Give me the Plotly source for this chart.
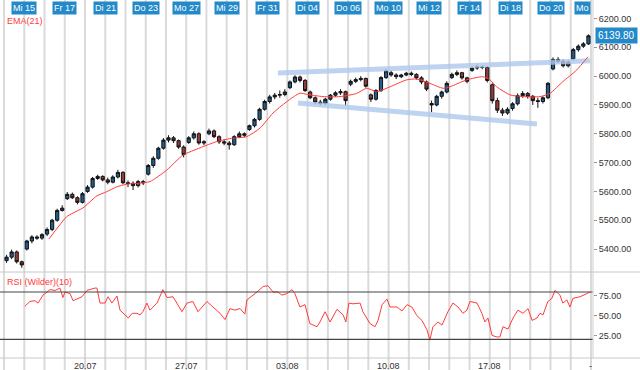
import plotly.graph_objects as go

# ---------------- data ----------------
# trading days: Di 14 = -1, Mi 15 = 0, ... Mo 24 = 28
grid_days = list(range(-1, 29))
top_label_days = [0, 2, 4, 6, 8, 10, 12, 14, 16, 18, 20, 22, 24, 26, 28]
top_labels = ["Mi 15", "Fr 17", "Di 21", "Do 23", "Mo 27", "Mi 29", "Fr 31", "Di 04",
              "Do 06", "Mo 10", "Mi 12", "Fr 14", "Di 18", "Do 20", "Mo"]
week_days = [3, 8, 13, 18, 23, 28]
week_labels = ["20.07", "27.07", "03.08", "10.08", "17.08", "-"]
bar_days = list(range(-1, 28))
bars_per_day = 4

opens = [
    5360, 5372, 5390, 5356,  5400, 5428, 5442, 5438,  5452, 5468, 5500, 5534,
    5575, 5590, 5578, 5562,  5600, 5615, 5645, 5652,  5640, 5632, 5650, 5666,
    5630, 5628, 5620, 5634,  5660, 5690, 5715, 5750,  5778, 5786, 5776, 5754,
    5770, 5786, 5800, 5768,  5800, 5810, 5790, 5772,  5768, 5762, 5790, 5800,
    5815, 5828, 5850, 5885,  5912, 5928, 5934, 5936,  5960, 5980, 5997, 5985,
    5945, 5925, 5910, 5905,  5920, 5934, 5942, 5946,  5972, 5982, 5988, 5992,
    5935, 5920, 5950, 5995,  6012, 6004, 5998, 6004,  6010, 6006, 5994, 5980,
    5905, 5900, 5930, 5945,  5995, 6006, 6012, 5994,  6020, 6028, 6032, 6030,
    5970, 5915, 5882, 5872,  5888, 5904, 5932, 5940,  5930, 5915, 5912, 5925,
    6025, 6058, 6052, 6036,  6060, 6092, 6104, 6112,
]
closes = [
    5372, 5390, 5356, 5345,  5428, 5442, 5438, 5450,  5468, 5500, 5534, 5542,
    5590, 5578, 5562, 5592,  5615, 5645, 5652, 5640,  5632, 5650, 5666, 5630,
    5628, 5620, 5634, 5630,  5690, 5715, 5750, 5778,  5786, 5776, 5754, 5728,
    5786, 5800, 5768, 5772,  5810, 5790, 5772, 5768,  5762, 5790, 5800, 5795,
    5828, 5850, 5885, 5912,  5928, 5934, 5936, 5945,  5980, 5997, 5985, 5950,
    5925, 5910, 5905, 5920,  5934, 5942, 5946, 5915,  5982, 5988, 5992, 5965,
    5920, 5950, 5995, 6018,  6004, 5998, 6004, 6010,  6006, 5994, 5980, 5955,
    5900, 5930, 5945, 5975,  6006, 6012, 5994, 5982,  6028, 6032, 6030, 5985,
    5915, 5882, 5872, 5885,  5904, 5932, 5940, 5930,  5915, 5912, 5925, 5975,
    6058, 6052, 6036, 6048,  6092, 6104, 6112, 6139.8,
]
highs = [
    5380, 5398, 5395, 5360,  5432, 5448, 5448, 5455,  5475, 5505, 5540, 5552,
    5598, 5596, 5583, 5598,  5622, 5650, 5658, 5656,  5648, 5656, 5675, 5670,
    5638, 5635, 5640, 5640,  5695, 5722, 5755, 5785,  5795, 5792, 5780, 5760,
    5792, 5808, 5805, 5778,  5818, 5815, 5795, 5780,  5775, 5795, 5808, 5805,
    5832, 5855, 5890, 5918,  5935, 5942, 5950, 5955,  5985, 6003, 6002, 5990,
    5950, 5930, 5918, 5925,  5938, 5948, 5955, 5950,  5988, 5995, 6000, 5995,
    5940, 5955, 6000, 6025,  6020, 6010, 6008, 6015,  6016, 6010, 6000, 5985,
    5915, 5935, 5950, 5982,  6012, 6020, 6015, 5998,  6034, 6040, 6038, 6035,
    5975, 5925, 5890, 5892,  5910, 5940, 5948, 5945,  5935, 5925, 5930, 5980,
    6065, 6066, 6058, 6055,  6098, 6110, 6118, 6145,
]
lows = [
    5352, 5365, 5350, 5335,  5395, 5420, 5432, 5432,  5445, 5462, 5495, 5530,
    5570, 5574, 5555, 5558,  5595, 5610, 5640, 5635,  5625, 5628, 5645, 5625,
    5615, 5605, 5614, 5622,  5655, 5682, 5710, 5745,  5770, 5768, 5748, 5718,
    5765, 5780, 5762, 5760,  5795, 5785, 5765, 5760,  5745, 5758, 5785, 5788,
    5810, 5822, 5845, 5880,  5905, 5920, 5925, 5930,  5955, 5975, 5978, 5945,
    5920, 5902, 5898, 5900,  5915, 5928, 5935, 5898,  5965, 5976, 5982, 5960,
    5910, 5915, 5945, 5990,  5998, 5990, 5993, 6000,  6000, 5988, 5972, 5948,
    5875, 5895, 5922, 5940,  5990, 6000, 5988, 5975,  6015, 6022, 6024, 5978,
    5905, 5872, 5862, 5866,  5880, 5898, 5925, 5922,  5900, 5890, 5905, 5920,
    6020, 6045, 6030, 6030,  6055, 6085, 6098, 6108,
]

ema_x = [1.22, 2.09, 2.41, 2.90, 3.58, 4.07, 4.57, 5.06, 5.72, 6.21, 7.04, 7.84, 8.68,
         9.51, 10.31, 10.99, 11.65, 12.29, 12.96, 13.62, 13.95, 14.76, 15.6, 16.42,
         16.92, 17.41, 18.07, 18.89, 19.39, 20.04, 20.69, 21.03, 21.86, 22.66, 23.01,
         23.34, 24.0, 24.64, 25.48, 25.97, 26.61, 27.29, 27.85]
ema_y = [5435, 5512, 5525, 5543, 5584, 5599, 5616, 5625, 5629, 5634, 5674, 5726, 5751,
         5773, 5785, 5790, 5820, 5872, 5911, 5941, 5937, 5929, 5929, 5940,
         5958, 5946, 5963, 5987, 5990, 5975, 5958, 5963, 5987, 5998, 5987,
         5963, 5935, 5929, 5929, 5940, 5981, 6021, 6067]

rsi_x = [0.03, 0.28, 0.53, 0.68, 0.92, 1.27, 1.52, 1.76, 1.91, 2.01,
         2.26, 2.41, 2.85, 3.10, 3.49, 3.59, 3.74, 3.99, 4.14, 4.33,
         4.58, 4.73, 5.14, 5.33, 5.57, 5.72, 5.86, 6.06, 6.21, 6.56,
         6.85, 7.05, 7.35, 7.79, 8.04, 8.33, 8.58, 9.03, 9.32, 9.67,
         9.92, 10.16, 10.41, 10.66, 10.90, 11.0, 11.5, 11.80, 12.04, 12.29,
         12.53, 12.73, 12.97, 13.23, 13.37, 13.62, 13.87, 14.11, 14.46,
         14.61, 14.86, 15.11, 15.45, 15.75, 15.89, 16.04, 16.24, 16.59, 16.73,
         17.08, 17.33, 17.48, 17.68, 17.92, 18.07, 18.42, 18.66, 18.91, 19.15,
         19.40, 19.65, 19.90, 20.04, 20.19, 20.44, 20.64, 20.93, 21.18, 21.43,
         21.67, 21.87, 22.02, 22.37, 22.61, 22.76, 22.91, 23.11, 23.36, 23.50,
         23.65, 23.90, 24.15, 24.39, 24.64, 24.89, 25.09, 25.33, 25.48, 25.63,
         25.87, 26.07, 26.22, 26.47, 26.61, 26.81, 26.96, 27.11, 27.46, 27.80,
         27.95]
rsi_y = [62, 68, 69, 66, 76, 83, 82, 85, 73, 80,
         78, 69, 74, 82, 85, 85, 66, 66, 74, 66,
         75, 57, 47, 53, 53, 51, 55, 66, 57, 66,
         83, 73, 74, 55, 66, 68, 55, 68, 61, 53,
         45, 59, 57, 59, 52, 70, 80, 87, 88, 80,
         80, 76, 78, 83, 78, 61, 64, 40, 36,
         42, 55, 42, 58, 51, 42, 66, 65, 66, 55,
         40, 36, 44, 64, 71, 61, 61, 56, 64, 61,
         50, 44, 32, 19, 36, 42, 38, 55, 66, 61,
         53, 57, 68, 66, 53, 42, 47, 25, 23, 23,
         36, 33, 47, 57, 53, 59, 44, 47, 53, 51,
         68, 72, 82, 76, 66, 70, 61, 72, 74, 78,
         80]
rsi_levels = [20, 80]

channel_upper_x = [12.53, 27.95]
channel_upper_y = [6011, 6053]
channel_lower_x = [13.52, 25.33]
channel_lower_y = [5907, 5834]

last_price = 6139.80
price_ticks = [5400, 5500, 5600, 5700, 5800, 5900, 6000, 6100, 6200]
rsi_ticks = [25, 50, 75]

# ---------------- figure ----------------
bar_x = [d + (k + 0.5) / bars_per_day for d in bar_days for k in range(bars_per_day)]

W, H = 640, 370
ML, MR, MT, MB = 0, 47, 0, 12
plot_w = W - ML - MR
plot_h = H - MT - MB
price_dom = [(358 - 272) / plot_h, 1.0]
rsi_dom = [0.0, (358 - 273) / plot_h]
x_range = [-1.2, 28.1]

BLUE = "#2389c8"
RED = "#ff3b3b"
GRID = "#dadada"
FONT = "Liberation Sans, Arial, sans-serif"

fig = go.Figure()

for cx, cy in [(channel_upper_x, channel_upper_y), (channel_lower_x, channel_lower_y)]:
    fig.add_trace(go.Scatter(x=cx, y=cy, mode="lines",
                             line=dict(color="rgba(172,200,236,0.8)", width=5),
                             xaxis="x", yaxis="y", hoverinfo="skip"))

fig.add_trace(go.Candlestick(
    x=bar_x, open=opens, high=highs, low=lows, close=closes,
    increasing=dict(line=dict(color="#111111", width=1), fillcolor="#1f5e8e"),
    decreasing=dict(line=dict(color="#111111", width=1), fillcolor="#9a3a3a"),
    whiskerwidth=0, xaxis="x", yaxis="y", hoverinfo="skip"))

fig.add_trace(go.Scatter(x=ema_x, y=ema_y, mode="lines",
                         line=dict(color=RED, width=1, shape="spline", smoothing=0.6),
                         xaxis="x", yaxis="y", hoverinfo="skip"))

fig.add_trace(go.Scatter(x=rsi_x, y=rsi_y, mode="lines",
                         line=dict(color=RED, width=1),
                         xaxis="x2", yaxis="y2", hoverinfo="skip"))

shapes = []
for d in grid_days:
    shapes.append(dict(type="line", xref="x2", yref="paper", x0=d, x1=d,
                       y0=-MB / plot_h, y1=1, line=dict(color=GRID, width=2), layer="below"))
for lv in rsi_levels:
    shapes.append(dict(type="line", xref="x2 domain", yref="y2", x0=0, x1=1, y0=lv, y1=lv,
                       line=dict(color="#444444", width=1.2)))
for yp in [price_dom[0], 0.0]:
    shapes.append(dict(type="line", xref="paper", yref="paper", x0=0, x1=W / plot_w,
                       y0=yp, y1=yp, line=dict(color="#c8c8c8", width=1)))
shapes.append(dict(type="line", xref="paper", yref="paper", x0=1, x1=1, y0=0, y1=1,
                   line=dict(color="#cfcfcf", width=1)))

annotations = []
for d, lab in zip(top_label_days, top_labels):
    annotations.append(dict(x=d, y=1, xref="x", yref="paper", text=lab, showarrow=False,
                            xanchor="right" if lab == "Mo" else "center", yanchor="top",
                            yshift=-1, bgcolor=BLUE, borderpad=1,
                            font=dict(family=FONT, size=9, color="white")))
for d, lab in zip(week_days, week_labels):
    annotations.append(dict(x=d, y=0, xref="x2", yref="paper", text=lab, showarrow=False,
                            xanchor="center", yanchor="top", yshift=-1,
                            font=dict(family=FONT, size=9, color="#333333")))
annotations.append(dict(x=0.008, y=1 - 21 / 272, xref="paper", yref="y domain", text="EMA(21)",
                        showarrow=False, xanchor="left", yanchor="middle",
                        font=dict(family=FONT, size=9, color=RED)))
annotations.append(dict(x=0.008, y=1 - 9 / 85, xref="paper", yref="y2 domain",
                        text="RSI (Wilder)(10)", showarrow=False, xanchor="left",
                        yanchor="middle", font=dict(family=FONT, size=9, color=RED)))
annotations.append(dict(x=1, y=last_price, xref="paper", yref="y", text=f"{last_price:.2f}",
                        showarrow=False, xanchor="left", yanchor="middle", xshift=2,
                        bgcolor=BLUE, borderpad=2,
                        font=dict(family=FONT, size=10, color="white")))

fig.update_layout(
    width=W, height=H,
    margin=dict(l=ML, r=MR, t=MT, b=MB),
    paper_bgcolor="white", plot_bgcolor="white",
    showlegend=False, boxgap=0.1,
    font=dict(family=FONT, size=9, color="#333333"),
    shapes=shapes, annotations=annotations,
    xaxis=dict(domain=[0, 1], range=x_range, anchor="y", showgrid=False, zeroline=False,
               showticklabels=False, ticks="", rangeslider=dict(visible=False),
               fixedrange=True),
    yaxis=dict(domain=price_dom, range=[5320.4, 6264.2], side="right", anchor="x",
               tickvals=price_ticks, tickformat=".2f", ticks="outside", ticklen=3,
               tickcolor="#999999", showgrid=False, zeroline=False, automargin=False,
               tickfont=dict(family=FONT, size=9, color="#333333")),
    xaxis2=dict(domain=[0, 1], range=x_range, anchor="y2", showgrid=False, zeroline=False,
                showticklabels=False, ticks="", automargin=False),
    yaxis2=dict(domain=rsi_dom, range=[-3.65, 104.1], side="right", anchor="x2",
                tickvals=rsi_ticks, tickformat=".2f", ticks="outside", ticklen=3,
                tickcolor="#999999", showgrid=False, zeroline=False, automargin=False,
                tickfont=dict(family=FONT, size=9, color="#333333")),
)

fig.write_html("out.html", config={"displayModeBar": False},
               post_script="document.body.style.margin='0px';")
